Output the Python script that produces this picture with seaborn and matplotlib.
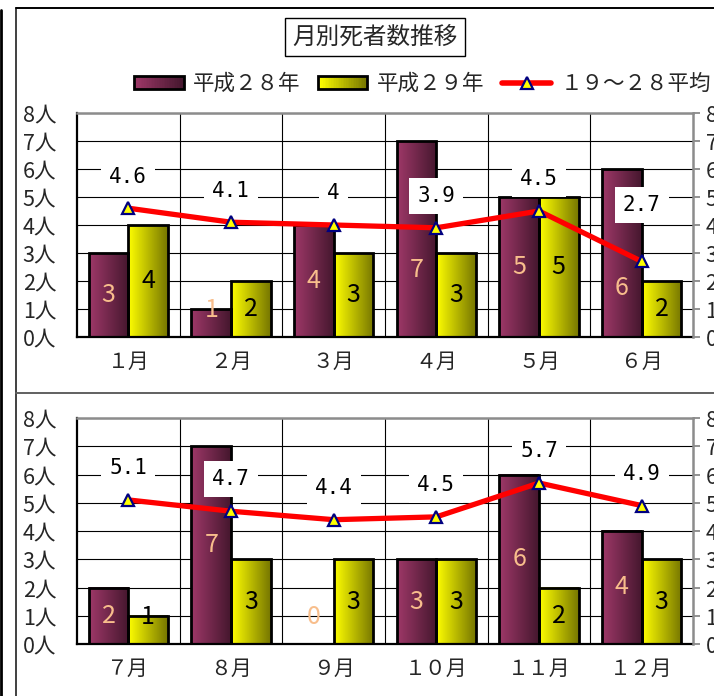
import numpy as np
import pandas as pd
import matplotlib
matplotlib.use("Agg")
import matplotlib.pyplot as plt
import seaborn as sns
from matplotlib import font_manager
from matplotlib.colors import LinearSegmentedColormap
from matplotlib.legend_handler import HandlerBase
from matplotlib.patches import Rectangle, Patch
from matplotlib.lines import Line2D

# ==================== DATA ====================
months_a = ["１月", "２月", "３月", "４月", "５月", "６月"]
months_b = ["７月", "８月", "９月", "１０月", "１１月", "１２月"]
h28_a = [3, 1, 4, 7, 5, 6]
h29_a = [4, 2, 3, 3, 5, 2]
avg_a = [4.6, 4.1, 4.0, 3.9, 4.5, 2.7]
h28_b = [2, 7, 0, 3, 6, 4]
h29_b = [1, 3, 3, 3, 2, 3]
avg_b = [5.1, 4.7, 4.4, 4.5, 5.7, 4.9]
series_names = ["平成２８年", "平成２９年", "１９～２８平均"]
y_ticks = list(range(9))
y_labels = [f"{v}人" for v in y_ticks]
title = "月別死者数推移"

sns.set_style("white")
plt.rcParams["font.family"] = ["Noto Sans CJK JP", "DejaVu Sans"]

installed = {f.name for f in font_manager.fontManager.ttflist}
narrow = "Liberation Sans Narrow" if "Liberation Sans Narrow" in installed else "Noto Sans CJK JP"

MAROON = ("#9E3868", "#45172E")
YELLOW = ("#FFFF00", "#767600")
PEACH = "#F8BE8C"

W, H = 714, 696
fig = plt.figure(figsize=(W / 100, H / 100), dpi=100)
fig.patch.set_facecolor("white")


def fx(px):
    return px / W


def fy(py):
    return 1 - py / H


def paint_gradient(ax, bars, colors):
    cmap = LinearSegmentedColormap.from_list("g", list(colors))
    grad = np.linspace(0, 1, 128).reshape(1, -1)
    for b in bars:
        h = b.get_height()
        if h <= 0:
            continue
        x0 = b.get_x()
        ax.imshow(grad, cmap=cmap, extent=(x0, x0 + b.get_width(), b.get_y(), b.get_y() + h),
                  aspect="auto", interpolation="bilinear", zorder=1.5)
        b.set_facecolor("none")
        b.set_zorder(2)


def draw_panel(top_px, bottom_px, months, h28, h29, avg, label_y_override, avg_offset_override):
    ax = fig.add_axes([fx(77), fy(bottom_px), fx(693 - 77), (bottom_px - top_px) / H])
    df = pd.DataFrame({
        "month": months * 2,
        "value": h28 + h29,
        "series": [series_names[0]] * len(months) + [series_names[1]] * len(months),
    })
    sns.barplot(data=df, x="month", y="value", hue="series", order=months,
                hue_order=series_names[:2], palette=[MAROON[0], YELLOW[0]],
                width=0.77, edgecolor="black", linewidth=2, saturation=1,
                legend=False, ax=ax)
    paint_gradient(ax, ax.containers[0], MAROON)
    paint_gradient(ax, ax.containers[1], YELLOW)

    xs = np.arange(len(months))
    ax.plot(xs, avg, color="#FF0000", lw=3.8, marker="^", markersize=8,
            markerfacecolor="#FFFF00", markeredgecolor="#000080", markeredgewidth=1.6,
            zorder=3, solid_capstyle="round")

    # value labels inside bars
    for k, (bars, vals, col) in enumerate([(ax.containers[0], h28, PEACH),
                                            (ax.containers[1], h29, "black")]):
        for i, (b, v) in enumerate(zip(bars, vals)):
            yy = label_y_override.get((k, i), max(v / 2, 0.97))
            ax.text(b.get_x() + b.get_width() / 2, yy, f"{v}", ha="center", va="center",
                    fontsize=18, color=col, family=narrow, zorder=4)

    # average labels
    for i, v in enumerate(avg):
        off = avg_offset_override.get(i, 1.13)
        ax.text(i, v + off, f"{v:g}", ha="center", va="center", fontsize=15,
                family="DejaVu Sans Mono", color="black", zorder=5,
                bbox=dict(boxstyle="square,pad=0.38", fc="white", ec="none"))

    ax.set_xlim(-0.5, len(months) - 0.5)
    ax.set_ylim(0, 8)
    ax.set_axisbelow(True)
    ax.set_yticks(y_ticks, y_labels, fontsize=15.5)
    ax.set_xticks(xs, months, fontsize=15)
    ax.set_xticks(np.arange(0.5, len(months) - 1, 1), minor=True)
    ax.tick_params(axis="y", length=0, pad=15)
    ax.tick_params(axis="x", which="both", length=0, pad=10)
    ax.yaxis.grid(True, color="black", lw=0.8)
    ax.xaxis.grid(True, which="minor", color="black", lw=0.8)
    ax.set_xlabel("")
    ax.set_ylabel("")
    for s in ["top", "right"]:
        ax.spines[s].set_visible(False)
    for s in ["left", "bottom"]:
        ax.spines[s].set_color("black")
        ax.spines[s].set_linewidth(1.6)

    ax2 = ax.twinx()
    ax2.set_ylim(0, 8)
    ax2.set_yticks(y_ticks, y_labels, fontsize=15.5)
    ax2.tick_params(axis="y", length=5, width=1.2, color="#808080", pad=4)
    for s in ["left", "bottom"]:
        ax2.spines[s].set_visible(False)
    for s in ["top", "right"]:
        ax2.spines[s].set_color("#8C8C8C")
        ax2.spines[s].set_linewidth(1.8)
    return ax


draw_panel(113, 337, months_a, h28_a, h29_a, avg_a,
           label_y_override={(0, 3): 2.4, (0, 5): 1.75},
           avg_offset_override={5: 2.0})
draw_panel(418, 644, months_b, h28_b, h29_b, avg_b,
           label_y_override={}, avg_offset_override={})

# ==================== FRAME LINES ====================
frame = [((1, 1), (10, H), "black", 2.0),
         ((16, 16), (8, H), "#404040", 1.4),
         ((16, W), (8, 8), "black", 1.4),
         ((16, W), (393, 393), "#606060", 1.4)]
for xs_, ys_, c, lw in frame:
    fig.add_artist(Line2D([fx(p) for p in xs_], [fy(p) for p in ys_], color=c, lw=lw,
                          transform=fig.transFigure))

# ==================== TITLE ====================
fig.text(fx(375), fy(37), title, ha="center", va="center", fontsize=17,
         bbox=dict(boxstyle="square,pad=0.3", fc="white", ec="black", lw=1))


# ==================== LEGEND ====================
class GradientHandler(HandlerBase):
    def __init__(self, colors):
        super().__init__()
        self.cmap = LinearSegmentedColormap.from_list("g", list(colors))

    def create_artists(self, legend, orig_handle, xdescent, ydescent, width, height,
                       fontsize, trans):
        n = 30
        arts = []
        for k in range(n):
            arts.append(Rectangle((-xdescent + width * k / n, -ydescent), width / n * 1.05, height,
                                  facecolor=self.cmap(k / (n - 1)), edgecolor="none",
                                  transform=trans))
        arts.append(Rectangle((-xdescent, -ydescent), width, height, fill=False,
                              edgecolor="black", lw=2, transform=trans))
        return arts


h_a = Patch(label=series_names[0])
h_b = Patch(label=series_names[1])
h_c = Line2D([], [], color="#FF0000", lw=4, marker="^", markersize=8,
             markerfacecolor="#FFFF00", markeredgecolor="#000080", markeredgewidth=1.6)
fig.legend(handles=[h_a, h_b, h_c], labels=series_names, loc="center left",
           bbox_to_anchor=(fx(134), fy(84)), ncol=3, frameon=False, fontsize=15.5,
           handlelength=2.3, handleheight=0.6, handletextpad=0.45, columnspacing=0.8,
           borderpad=0, borderaxespad=0,
           handler_map={h_a: GradientHandler(MAROON), h_b: GradientHandler(YELLOW)})

fig.savefig("out.png", dpi=100)
